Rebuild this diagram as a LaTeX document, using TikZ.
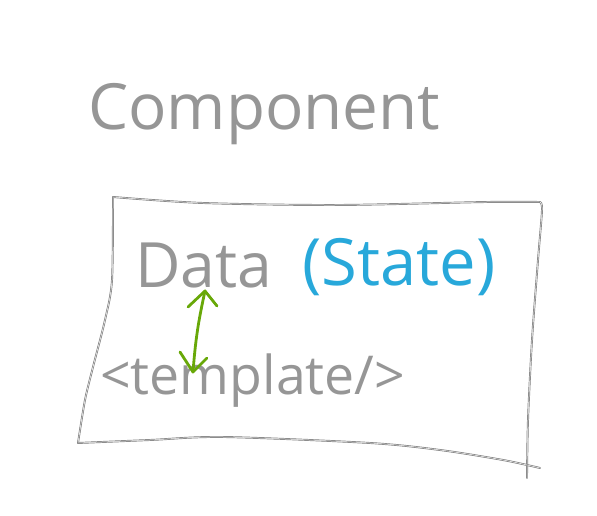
\documentclass[tikz,border=0pt]{standalone}
\usepackage{fontspec}
\setmainfont{Open Sans}
\definecolor{pen}{RGB}{125,125,125}
\definecolor{inkgray}{RGB}{150,150,150}
\definecolor{penblue}{RGB}{40,168,218}
\definecolor{pengreen}{RGB}{104,168,8}
\tikzset{
  sketch/.style={draw=pen, line width=0.7pt, double=white, double distance=0.5pt, line cap=round, line join=round},
  label/.style={inner sep=0pt, anchor=base west, text=inkgray},
  greenline/.style={draw=pengreen, line width=2.8pt, line cap=round, line join=round}
}
\begin{document}
\begin{tikzpicture}[x=1pt,y=1pt]
\useasboundingbox (0,0) rectangle (597,516);
% box edges
\draw[sketch] plot[smooth, tension=0.5] coordinates {(113,319) (203,313) (337,311) (487,314) (540,314)};
\draw[sketch] plot[smooth, tension=0.5] coordinates {(540,314) (542,306) (538,256) (532,176) (528,96) (527,38)};
\draw[sketch] plot[smooth, tension=0.5] coordinates {(113,319) (112,236) (105,196) (93,149) (85,116) (78,73)};
\draw[sketch] plot[smooth, tension=0.5] coordinates {(78,73) (150,76) (223,79) (370,73) (440,66) (503,56) (540,48)};
\node[label] (title) at (88,386) {\resizebox{352pt}{!}{Component}};
\node[label] (data) at (135,228) {\resizebox{137pt}{!}{Data}};
\node[label, text=penblue] (state) at (302,230) {\resizebox{193pt}{!}{(State)}};
\node[label] (tmpl) at (100,121) {\resizebox{305pt}{!}{<template/>}};
\coordinate (atop) at (205,225);
\coordinate (abot) at (193,144);
\draw[greenline] (abot) to[bend left=4] (atop);
\draw[greenline] ([shift={(-17,-16)}]atop) -- (atop) -- ([shift={(12,-15)}]atop);
\draw[greenline] ([shift={(-13,20)}]abot) -- (abot) -- ([shift={(14,14)}]abot);
\end{tikzpicture}
\end{document}
